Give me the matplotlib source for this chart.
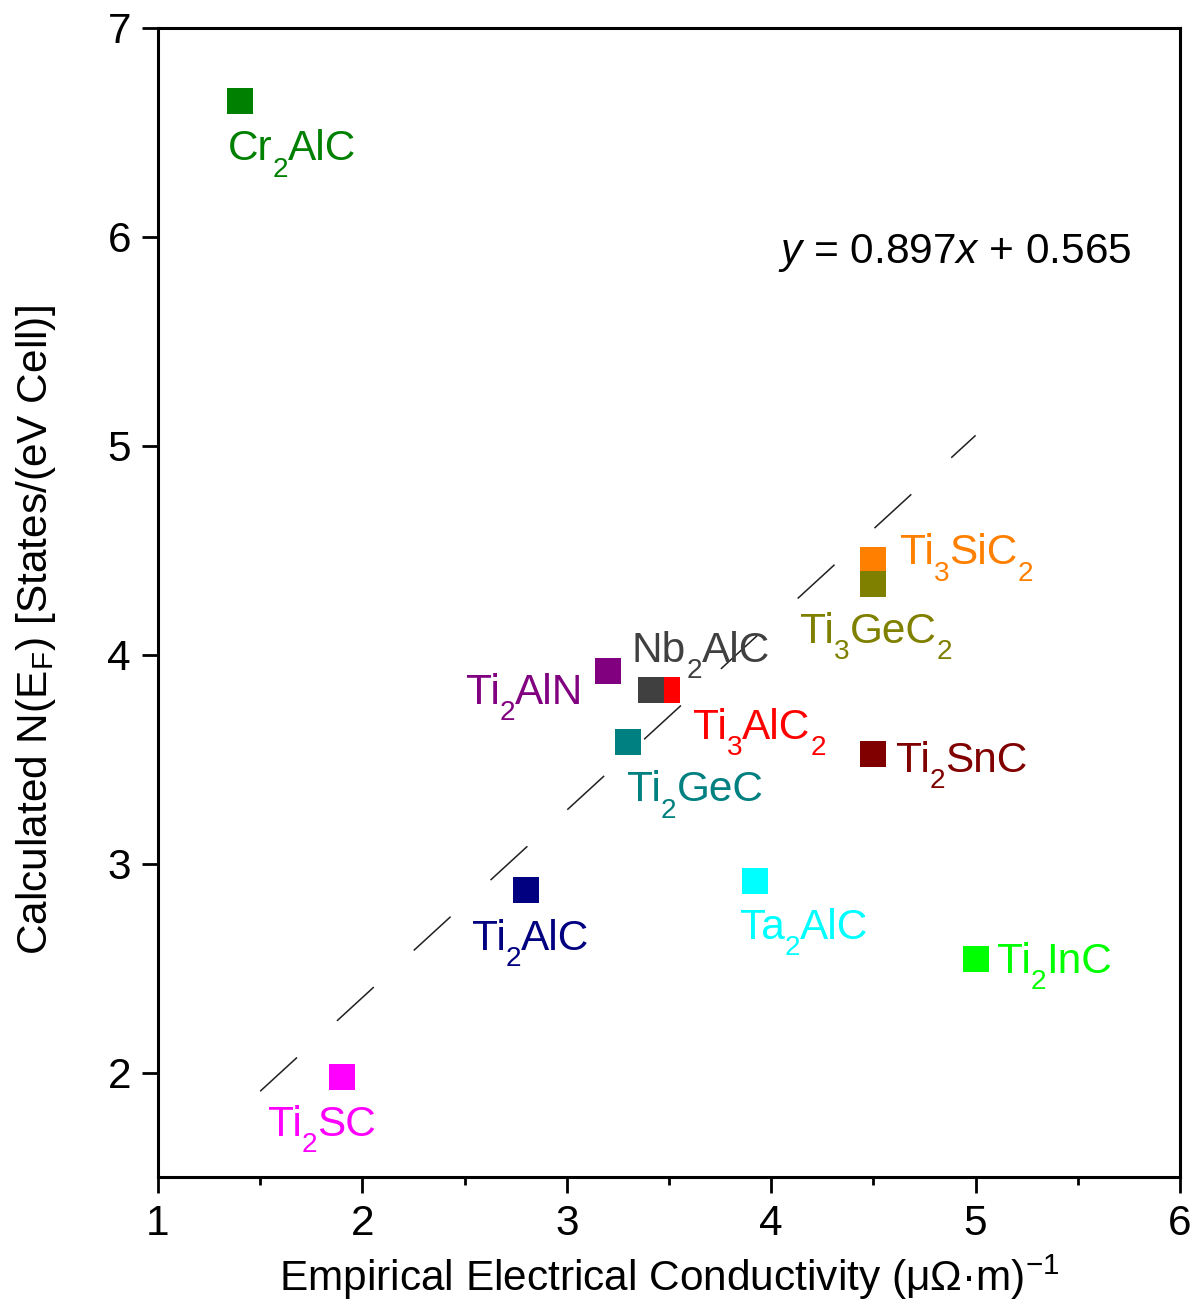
import re
import numpy as np
import matplotlib
matplotlib.use("Agg")
import matplotlib.pyplot as plt

plt.rcParams['font.family'] = ['Liberation Sans', 'DejaVu Sans']
plt.rcParams['mathtext.fontset'] = 'custom'
plt.rcParams['mathtext.rm'] = 'Liberation Sans'
plt.rcParams['mathtext.it'] = 'Liberation Sans:italic'
plt.rcParams['lines.scale_dashes'] = False

# data
names = ["Cr2AlC", "Ti2SC", "Ti2AlC", "Ti2AlN", "Ti3AlC2", "Nb2AlC", "Ti2GeC",
         "Ti3SiC2", "Ti3GeC2", "Ti2SnC", "Ta2AlC", "Ti2InC"]
cond = [1.40, 1.90, 2.80, 3.20, 3.49, 3.41, 3.30, 4.50, 4.50, 4.50, 3.92, 5.00]
dos = [6.65, 1.98, 2.875, 3.92, 3.83, 3.83, 3.58, 4.455, 4.34, 3.525, 2.915, 2.545]
colors = ["#008000", "#ff00ff", "#000080", "#800080", "#ff0000", "#404040",
          "#008080", "#ff8000", "#808000", "#800000", "#00ffff", "#00ff00"]
# label anchor (left, baseline) in data units
lab_x = [1.342, 1.538, 2.536, 2.507, 3.617, 3.319, 3.295, 4.630, 4.141, 4.611, 3.847, 5.105]
lab_y = [6.368, 1.698, 2.588, 3.765, 3.598, 3.966, 3.300, 4.435, 4.057, 3.440, 2.641, 2.478]

slope, icpt = 0.897, 0.565
fit_x = np.array([1.5, 5.0])

FS = 30.5
SUB = 0.66 * FS
DROP = 12  # points the subscript baseline sits below the main baseline


def chem_label(ax, x, y, name, color):
    parts = [p for p in re.split(r'(\d)', name) if p]
    prev = ax.text(x, y, parts[0], fontsize=FS, color=color,
                   ha="left", va="baseline", zorder=4)
    for p in parts[1:]:
        sub = p.isdigit()
        prev = ax.annotate(p, xy=(1, y), xycoords=(prev, "data"),
                           xytext=(0, -DROP if sub else 0), textcoords="offset points",
                           fontsize=SUB if sub else FS, color=color,
                           ha="left", va="baseline", zorder=4)


fig = plt.figure(figsize=(11.94, 13.02), dpi=100)
ax = fig.add_axes([0.1323, 0.096, 0.8560, 0.8825])

ax.plot(fit_x, slope * fit_x + icpt, color="#202020", linewidth=1.1,
        linestyle=(0, (36, 39)), zorder=1)

for i in range(len(names)):
    ax.scatter(cond[i], dos[i], marker="s", s=19**2, color=colors[i],
               linewidths=0, zorder=3)
    chem_label(ax, lab_x[i], lab_y[i], names[i], colors[i])

ax.text(4.033, 5.875, r"$y$ = 0.897$x$ + 0.565", fontsize=FS,
        ha="left", va="baseline")

ax.set_xlim(1, 6)
ax.set_ylim(1.5, 7)
ax.set_xticks([1, 2, 3, 4, 5, 6])
ax.set_xticks(np.arange(1.5, 6, 1.0), minor=True)
ax.set_yticks([2, 3, 4, 5, 6, 7])

for sp in ax.spines.values():
    sp.set_linewidth(2.2)
ax.tick_params(axis="both", which="major", direction="out", length=11.5,
               width=2.0, labelsize=FS, pad=8, top=False, right=False)
ax.tick_params(axis="x", which="minor", direction="out", length=6,
               width=2.0, top=False)

ax.set_xlabel("Empirical Electrical Conductivity (μΩ·m)$^{-1}$",
              fontsize=FS, labelpad=6)
ax.set_ylabel(r"Calculated N(E$_\mathregular{F}$) [States/(eV Cell)]", fontsize=FS)
ax.yaxis.set_label_coords(-0.098, 0.476)

fig.savefig("out.png", dpi=100)
